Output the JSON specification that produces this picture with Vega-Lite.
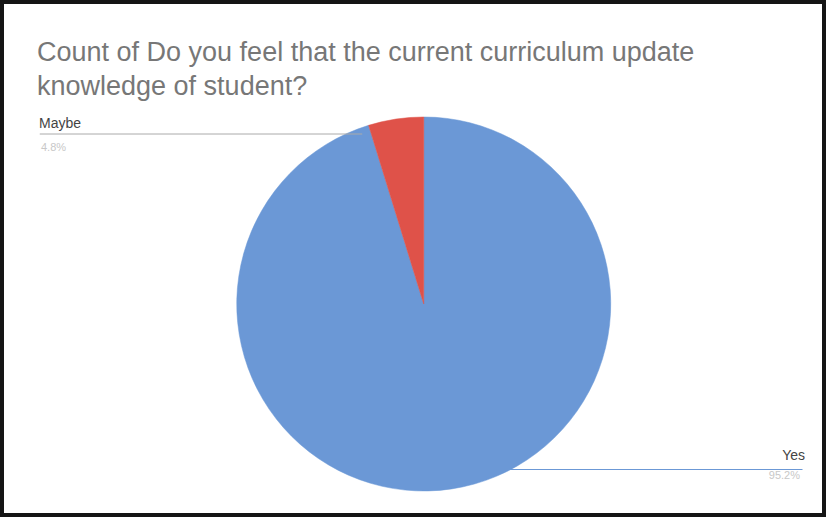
{
  "$schema": "https://vega.github.io/schema/vega-lite/v6.json",
  "width": 826,
  "height": 517,
  "autosize": {"type": "fit", "contains": "padding"},
  "padding": 0,
  "background": "white",
  "view": {"stroke": "#151515", "strokeWidth": 8, "fill": "white"},
  "title": {
    "text": ["Count of Do you feel that the current curriculum update", "knowledge of student?"],
    "anchor": "start",
    "frame": "group",
    "orient": "top",
    "offset": -101,
    "dx": 37,
    "font": "Liberation Sans",
    "fontSize": 27,
    "fontWeight": "normal",
    "color": "#777777",
    "lineHeight": 34
  },
  "data": {
    "values": [
      {"answer": "Yes", "pct": "95.2%", "count": 20},
      {"answer": "Maybe", "pct": "4.8%", "count": 1}
    ]
  },
  "mark": {
    "type": "arc",
    "x": {"expr": "width*0.513"},
    "y": {"expr": "height*0.588"},
    "radius": 187,
    "strokeWidth": 0.5
  },
  "encoding": {
    "theta": {"field": "count", "type": "quantitative", "stack": true},
    "order": {"field": "answer", "sort": "descending"},
    "fill": {
      "field": "answer",
      "type": "nominal",
      "scale": {"domain": ["Yes", "Maybe"], "range": ["#6b98d6", "#df5249"]},
      "legend": {
        "orient": "none",
        "legendX": 39,
        "legendY": 117,
        "values": ["Maybe"],
        "title": "Maybe",
        "titleFont": "Liberation Sans",
        "titleFontSize": 14,
        "titleFontWeight": "normal",
        "titleColor": "#444444",
        "titlePadding": -159,
        "symbolType": "stroke",
        "symbolSize": 104000,
        "symbolStrokeColor": "#aaaaaa",
        "symbolStrokeWidth": 1,
        "labelOffset": -322,
        "labelBaseline": "top",
        "labelExpr": "'4.8%'",
        "labelFont": "Liberation Sans",
        "labelFontSize": 11,
        "labelColor": "#c8c8c8",
        "encode": {"labels": {"update": {"dy": {"value": 8}}}}
      }
    },
    "stroke": {
      "field": "pct",
      "type": "nominal",
      "scale": {"domain": ["95.2%", "4.8%"], "range": ["#6b98d6", "#df5249"]},
      "legend": {
        "orient": "none",
        "legendX": 452,
        "legendY": 449,
        "values": ["95.2%"],
        "title": "Yes",
        "titleAnchor": "end",
        "titleFont": "Liberation Sans",
        "titleFontSize": 14,
        "titleFontWeight": "normal",
        "titleColor": "#444444",
        "titlePadding": -169,
        "symbolType": "stroke",
        "symbolSize": 122500,
        "symbolStrokeWidth": 1,
        "labelOffset": -3,
        "labelAlign": "right",
        "labelBaseline": "top",
        "labelFont": "Liberation Sans",
        "labelFontSize": 11,
        "labelColor": "#c8c8c8",
        "encode": {
          "labels": {"update": {"dy": {"value": 11}}},
          "symbols": {"update": {"stroke": {"value": "#aaaaaa"}, "strokeWidth": {"value": 1}}}
        }
      }
    }
  }
}
